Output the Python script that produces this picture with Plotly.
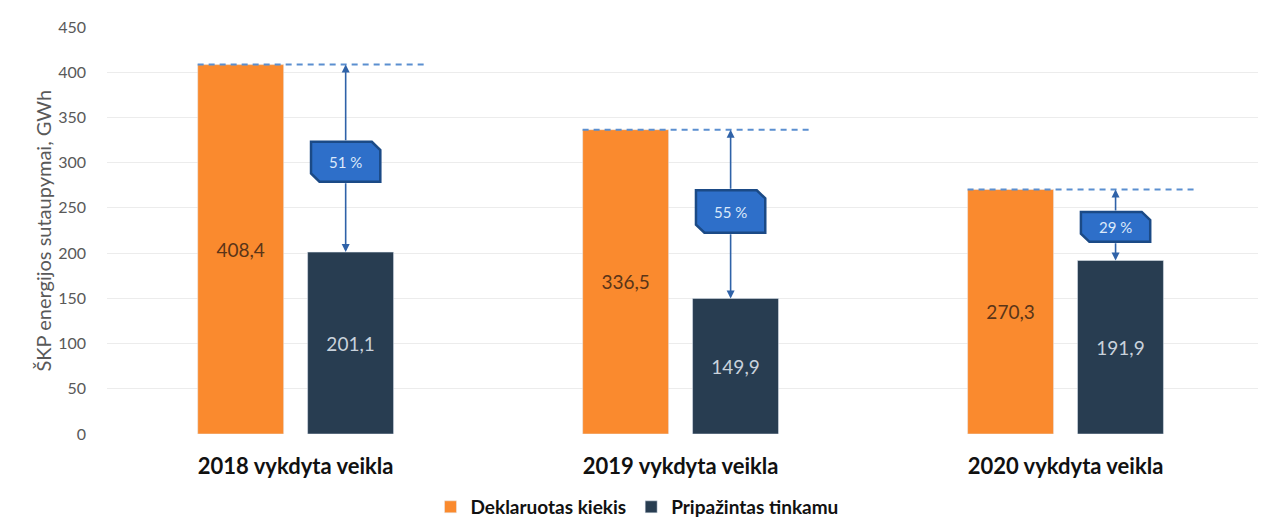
import plotly.graph_objects as go

categories = ["2018 vykdyta veikla", "2019 vykdyta veikla", "2020 vykdyta veikla"]
declared = [408.4, 336.5, 270.3]
accepted = [201.1, 149.9, 191.9]
declared_labels = ["408,4", "336,5", "270,3"]
accepted_labels = ["201,1", "149,9", "191,9"]
pct_labels = ["51 %", "55 %", "29 %"]
box_centers = [301, 246, 229]   # y positions of the percentage boxes
box_heights = [44, 47, 33]

x = list(range(len(categories)))
ORANGE = "#FA8A2E"
DARK = "#283D51"

fig = go.Figure()
fig.add_trace(go.Bar(
    x=x, y=declared, name="Deklaruotas kiekis", marker_color=ORANGE,
    text=declared_labels, textposition="inside", insidetextanchor="middle",
    textfont=dict(color="#5a3518", size=19, family="Lato"), textangle=0,
))
fig.add_trace(go.Bar(
    x=x, y=accepted, name="Pripažintas tinkamu", marker_color=DARK,
    text=accepted_labels, textposition="inside", insidetextanchor="middle",
    textfont=dict(color="#c9d2dc", size=19, family="Lato"), textangle=0,
))

shapes = []
annotations = []
half_group = 0.2545
for i in x:
    xc = i + 0.13  # arrow / box centre
    shapes.append(dict(type="line", xref="x", yref="y",
                       x0=i - half_group, x1=i + 0.345, y0=declared[i], y1=declared[i],
                       line=dict(color="#5b8fd0", width=2, dash="6px,5px")))
    w = 0.09
    h = box_heights[i] / 2
    yc = box_centers[i]
    cx, cy = 0.022, 9
    path = (f"M {xc - w},{yc + h} L {xc + w - cx},{yc + h} L {xc + w},{yc + h - cy} "
            f"L {xc + w},{yc - h} L {xc - w + cx},{yc - h} L {xc - w},{yc - h + cy} Z")
    shapes.append(dict(type="path", xref="x", yref="y", path=path,
                       fillcolor="#2E6FC9", line=dict(color="#1B4A86", width=2.5),
                       layer="above"))
    annotations.append(dict(x=xc, y=declared[i], ax=xc, ay=yc + h, xref="x", yref="y",
                            axref="x", ayref="y", text="", showarrow=True,
                            arrowhead=2, arrowsize=1, arrowwidth=1.6, arrowcolor="#2f62a8"))
    annotations.append(dict(x=xc, y=accepted[i], ax=xc, ay=yc - h, xref="x", yref="y",
                            axref="x", ayref="y", text="", showarrow=True,
                            arrowhead=2, arrowsize=1, arrowwidth=1.6, arrowcolor="#2f62a8"))
    annotations.append(dict(x=xc, y=yc, xref="x", yref="y", text=pct_labels[i],
                            showarrow=False, font=dict(color="#dce9fa", size=15, family="Lato")))

annotations.append(dict(x=0, y=0.5, xref="paper", yref="paper", xshift=-65,
                        xanchor="center", yanchor="middle", textangle=-90, showarrow=False,
                        text="ŠKP energijos sutaupymai, GWh",
                        font=dict(size=20, color="#595959", family="Lato")))

fig.update_layout(
    width=1258, height=516,
    paper_bgcolor="white", plot_bgcolor="white",
    margin=dict(l=99, r=8, t=19, b=90),
    barmode="group", bargap=0.429, bargroupgap=0.218,
    shapes=shapes, annotations=annotations,
    font=dict(family="Lato", color="#595959"),
    legend=dict(orientation="h", xref="container", yref="container",
                x=0.5, y=0.033, xanchor="center", yanchor="middle",
                font=dict(size=19, color="#111111", family="Lato", weight="bold"),
                itemwidth=30, traceorder="normal"),
    showlegend=True,
)
fig.update_xaxes(
    range=[-0.49, 2.5], tickvals=x, ticktext=categories,
    tickfont=dict(size=22, color="#111111", family="Lato", weight="bold"),
    showgrid=False, zeroline=False, showline=False, ticks="", ticklabelstandoff=17,
)
fig.update_yaxes(
    range=[0, 450], dtick=50, showgrid=True, gridcolor="#ececec", gridwidth=1,
    zeroline=False, showline=False, ticks="",
    tickfont=dict(size=16, color="#595959", family="Lato"), ticklabelstandoff=20,
)

fig.write_html("out.html")
